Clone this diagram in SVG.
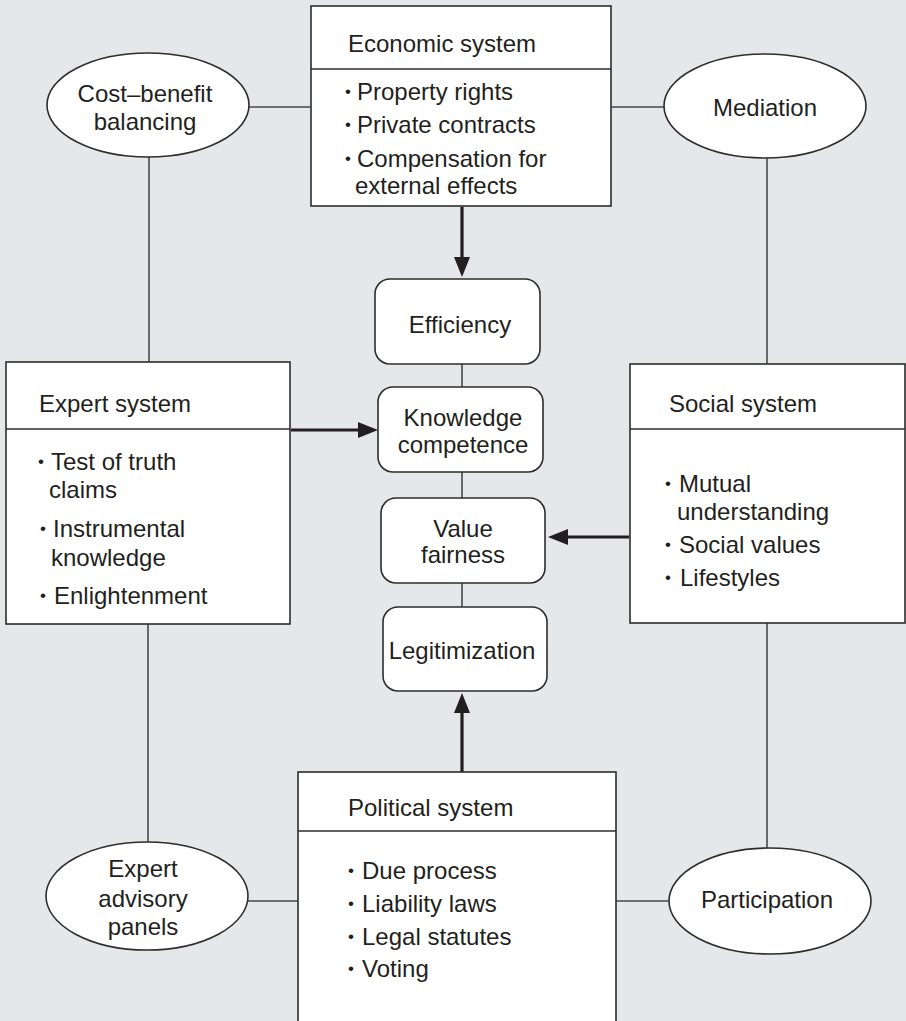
<svg xmlns="http://www.w3.org/2000/svg" width="906" height="1021" viewBox="0 0 906 1021">
  <style>
    .bg { fill: #e6e7e9; }
    .box { fill: #ffffff; stroke: #2e2c2d; stroke-width: 1.6; }
    .rbox { fill: #ffffff; stroke: #2e2c2d; stroke-width: 1.6; }
    .oval { fill: #ffffff; stroke: #2e2c2d; stroke-width: 1.6; }
    .link { fill: none; stroke: #4a4849; stroke-width: 1.6; }
    .flow { fill: none; stroke: #231f20; stroke-width: 3.2; }
    text { font-family: "Liberation Sans", Arial, Helvetica, sans-serif; fill: #231f20; }
    .t { font-size: 24px; }
    .c { font-size: 24px; text-anchor: middle; }
    .dot { font-size: 17px; }
  </style>
  <defs>
    <marker id="head" markerUnits="userSpaceOnUse" markerWidth="22" markerHeight="18" refX="2" refY="8" orient="auto">
      <path d="M0,0 L20,8 L0,16 z" fill="#231f20"/>
    </marker>
  </defs>

  <rect class="bg" x="0" y="0" width="906" height="1021"/>

  <!-- connectors -->
  <g id="connectors">
    <!-- economic system to its mechanisms -->
    <line class="link" x1="249" y1="107" x2="311" y2="107"/>
    <line class="link" x1="611" y1="107" x2="664" y2="107"/>
    <!-- vertical ties to the side systems -->
    <line class="link" x1="149" y1="157" x2="149" y2="362"/>
    <line class="link" x1="767" y1="158" x2="767" y2="364"/>
    <line class="link" x1="148" y1="624" x2="148" y2="842"/>
    <line class="link" x1="767" y1="623" x2="767" y2="848"/>
    <!-- political system to its mechanisms -->
    <line class="link" x1="248" y1="901" x2="298" y2="901"/>
    <line class="link" x1="616" y1="901" x2="669" y2="901"/>
    <!-- chain of central criteria -->
    <line class="link" x1="462" y1="364" x2="462" y2="387"/>
    <line class="link" x1="462" y1="472" x2="462" y2="498"/>
    <line class="link" x1="462" y1="583" x2="462" y2="607"/>
    <!-- heavy arrows into the criteria -->
    <line class="flow" x1="462" y1="207" x2="462" y2="259" marker-end="url(#head)"/>
    <line class="flow" x1="291" y1="430" x2="360" y2="430" marker-end="url(#head)"/>
    <line class="flow" x1="629" y1="537" x2="566" y2="537" marker-end="url(#head)"/>
    <line class="flow" x1="462" y1="772" x2="462" y2="711" marker-end="url(#head)"/>
  </g>

  <!-- economic system -->
  <g id="economic-system">
    <rect class="box" x="311" y="6" width="300" height="200"/>
    <line class="box" x1="311" y1="69" x2="611" y2="69"/>
    <text class="t" x="348" y="52">Economic system</text>
    <text class="dot" x="345" y="97">•</text>
    <text class="t" x="357" y="100">Property rights</text>
    <text class="dot" x="345" y="130">•</text>
    <text class="t" x="357" y="133">Private contracts</text>
    <text class="dot" x="345" y="164">•</text>
    <text class="t" x="357" y="167">Compensation for</text>
    <text class="t" x="355" y="194">external effects</text>
  </g>

  <!-- cost-benefit balancing -->
  <g id="cost-benefit">
    <ellipse class="oval" cx="148" cy="105" rx="101" ry="52"/>
    <text class="c" x="145" y="102">Cost–benefit</text>
    <text class="c" x="145" y="130">balancing</text>
  </g>

  <!-- mediation -->
  <g id="mediation">
    <ellipse class="oval" cx="765" cy="106" rx="101" ry="52"/>
    <text class="c" x="765" y="116">Mediation</text>
  </g>

  <!-- efficiency -->
  <g id="efficiency">
    <rect class="rbox" x="375" y="279" width="165" height="85" rx="15" ry="15"/>
    <text class="c" x="460" y="333">Efficiency</text>
  </g>

  <!-- knowledge competence -->
  <g id="knowledge-competence">
    <rect class="rbox" x="378" y="387" width="165" height="85" rx="15" ry="15"/>
    <text class="c" x="463" y="426">Knowledge</text>
    <text class="c" x="463" y="453">competence</text>
  </g>

  <!-- value fairness -->
  <g id="value-fairness">
    <rect class="rbox" x="381" y="498" width="164" height="85" rx="15" ry="15"/>
    <text class="c" x="463" y="537">Value</text>
    <text class="c" x="463" y="563">fairness</text>
  </g>

  <!-- legitimization -->
  <g id="legitimization">
    <rect class="rbox" x="383" y="607" width="164" height="84" rx="15" ry="15"/>
    <text class="c" x="462" y="659">Legitimization</text>
  </g>

  <!-- expert system -->
  <g id="expert-system">
    <rect class="box" x="6" y="362" width="284" height="262"/>
    <line class="box" x1="6" y1="429" x2="290" y2="429"/>
    <text class="t" x="39" y="412">Expert system</text>
    <text class="dot" x="38" y="467">•</text>
    <text class="t" x="51" y="470">Test of truth</text>
    <text class="t" x="49" y="498">claims</text>
    <text class="dot" x="40" y="534">•</text>
    <text class="t" x="53" y="537">Instrumental</text>
    <text class="t" x="51" y="566">knowledge</text>
    <text class="dot" x="40" y="601">•</text>
    <text class="t" x="54" y="604">Enlightenment</text>
  </g>

  <!-- social system -->
  <g id="social-system">
    <rect class="box" x="630" y="364" width="275" height="259"/>
    <line class="box" x1="630" y1="429" x2="905" y2="429"/>
    <text class="t" x="669" y="412">Social system</text>
    <text class="dot" x="665" y="489">•</text>
    <text class="t" x="679" y="492">Mutual</text>
    <text class="t" x="677" y="520">understanding</text>
    <text class="dot" x="665" y="550">•</text>
    <text class="t" x="679" y="553">Social values</text>
    <text class="dot" x="665" y="583">•</text>
    <text class="t" x="680" y="586">Lifestyles</text>
  </g>

  <!-- political system -->
  <g id="political-system">
    <rect class="box" x="298" y="772" width="318" height="260"/>
    <line class="box" x1="298" y1="831" x2="616" y2="831"/>
    <text class="t" x="348" y="816">Political system</text>
    <text class="dot" x="348" y="876">•</text>
    <text class="t" x="362" y="879">Due process</text>
    <text class="dot" x="348" y="909">•</text>
    <text class="t" x="362" y="912">Liability laws</text>
    <text class="dot" x="348" y="942">•</text>
    <text class="t" x="362" y="945">Legal statutes</text>
    <text class="dot" x="348" y="974">•</text>
    <text class="t" x="362" y="977">Voting</text>
  </g>

  <!-- expert advisory panels -->
  <g id="expert-panels">
    <ellipse class="oval" cx="147" cy="896" rx="101" ry="54"/>
    <text class="c" x="143" y="877">Expert</text>
    <text class="c" x="143" y="907">advisory</text>
    <text class="c" x="143" y="935">panels</text>
  </g>

  <!-- participation -->
  <g id="participation">
    <ellipse class="oval" cx="770" cy="901" rx="101" ry="53"/>
    <text class="c" x="767" y="908">Participation</text>
  </g>
</svg>
